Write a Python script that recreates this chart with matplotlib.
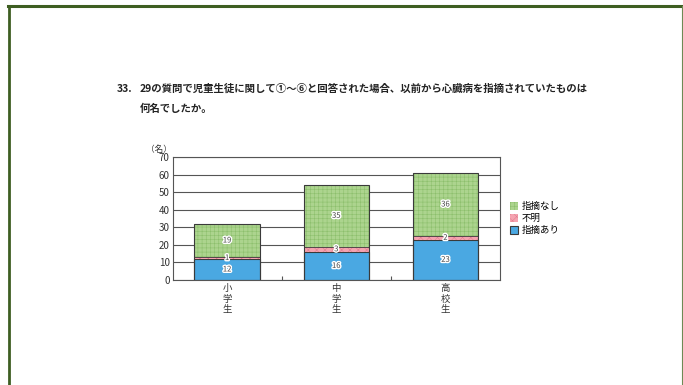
import matplotlib.pyplot as plt
import matplotlib.patheffects as pe
from matplotlib.lines import Line2D
import numpy as np

plt.rcParams['font.family'] = ['Noto Sans CJK JP', 'DejaVu Sans']
plt.rcParams['hatch.linewidth'] = 0.4

groups = ['小学生', '中学生', '高校生']
pointed = [12, 16, 23]      # 指摘あり
unknown = [1, 3, 2]         # 不明
not_pointed = [19, 35, 36]  # 指摘なし
yticks = [0, 10, 20, 30, 40, 50, 60, 70]

W, H = 683, 385
fig = plt.figure(figsize=(W / 100, H / 100), dpi=100)
fig.patch.set_facecolor('white')

# green page frame (top, left, right)
frame = '#3e5e22'
fig.add_artist(Line2D([8 / W, 682 / W], [1 - 6 / H, 1 - 6 / H], color=frame, lw=2.2))
fig.add_artist(Line2D([9 / W, 9 / W], [0, 1 - 6 / H], color=frame, lw=2.0))
fig.add_artist(Line2D([681.5 / W, 681.5 / W], [0, 1 - 6 / H], color='#6f8a55', lw=0.8))

# question text
fig.text(117 / W, 1 - 89 / H, '33.', fontsize=7.6, fontweight='bold', color='#222', va='center')
fig.text(140 / W, 1 - 89 / H,
         '29の質問で児童生徒に関して①～⑥と回答された場合、以前から心臓病を指摘されていたものは',
         fontsize=7.5, fontweight='bold', color='#222', va='center')
fig.text(140 / W, 1 - 109 / H, '何名でしたか。', fontsize=7.5, fontweight='bold',
         color='#222', va='center')

ax = fig.add_axes([172.5 / W, 1 - 280 / H, (500 - 172.5) / W, (280 - 157) / H])
x = np.arange(len(groups))
bw = 0.6
edge = '#3a3a3a'

b1 = ax.bar(x, pointed, bw, color='#4aa8e2', edgecolor=edge, linewidth=0.8, zorder=3,
            label='指摘あり')
b2 = ax.bar(x, unknown, bw, bottom=pointed, color='#f5a3b0', edgecolor='#e07f90',
            hatch='xxxx', linewidth=0, zorder=3, label='不明')
bottom2 = np.array(pointed) + np.array(unknown)
b3 = ax.bar(x, not_pointed, bw, bottom=bottom2, color='#acd48e', edgecolor='#8cbf6c',
            hatch='++++', linewidth=0, zorder=3, label='指摘なし')
# outline of the stacked bars
ax.bar(x, bottom2 + np.array(not_pointed), bw, fill=False, edgecolor=edge,
       linewidth=0.8, zorder=4)
ax.bar(x, bottom2, bw, fill=False, edgecolor=edge, linewidth=0.6, zorder=4)

halo = [pe.withStroke(linewidth=2, foreground='white')]
for i in range(len(groups)):
    for val, base in [(pointed[i], 0), (unknown[i], pointed[i]), (not_pointed[i], bottom2[i])]:
        ax.text(x[i], base + val / 2, str(val), ha='center', va='center', fontsize=5.5,
                color='#444', zorder=5, path_effects=halo)

ax.set_xlim(-0.5, 2.5)
ax.set_ylim(0, 70)
ax.set_yticks(yticks)
ax.tick_params(axis='y', labelsize=7, length=0, pad=2, colors='#333')
ax.yaxis.grid(True, color='#555', linewidth=0.8, zorder=0)
ax.set_xticks([0.5, 1.5])
ax.set_xticklabels([])
ax.tick_params(axis='x', direction='in', length=3, color='#555')
for i, g in enumerate(groups):
    ax.text(x[i], -2.5, '\n'.join(g), ha='center', va='top', fontsize=6.8,
            linespacing=1.2, color='#333')
for s in ax.spines.values():
    s.set_color('#555')
    s.set_linewidth(0.8)
ax.text(-0.62, 71.5, '（名）', fontsize=6.2, ha='center', va='bottom', color='#333')

handles = [b3, b2, b1]
ax.legend(handles, [h.get_label() for h in handles], loc='center left',
          bbox_to_anchor=(1.005, 0.5), frameon=False, fontsize=6.8,
          handlelength=0.8, handleheight=0.9, handletextpad=0.4, labelspacing=0.3)

fig.savefig('out.png', dpi=100)
